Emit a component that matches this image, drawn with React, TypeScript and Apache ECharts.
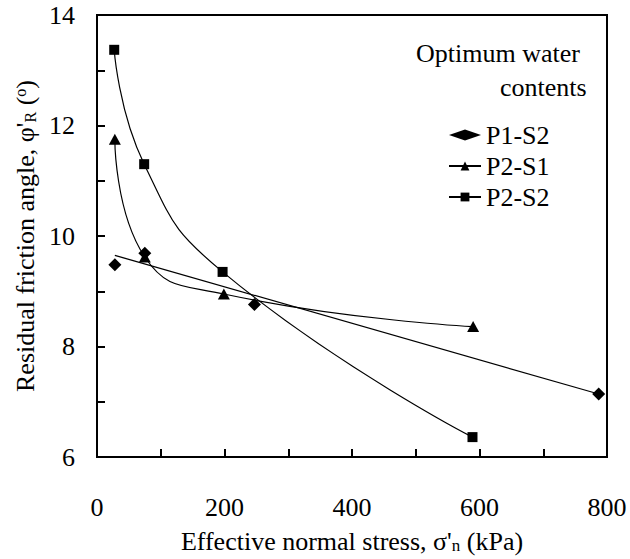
import React, { useEffect, useRef } from "react";
import * as echarts from "echarts";

// Measured data (effective normal stress kPa, residual friction angle deg)
const p1s2Stress = [28, 75, 247, 787];
const p1s2Angle = [9.48, 9.69, 8.76, 7.14];
const p1s2TrendStress = [28, 787];
const p1s2TrendAngle = [9.65, 7.14];

const p2s1Stress = [28, 75, 199, 590];
const p2s1Angle = [11.75, 9.62, 8.95, 8.36];

const p2s2Stress = [27, 74, 197, 589];
const p2s2Angle = [13.37, 11.3, 9.35, 6.36];

const seriesNames = ["P1-S2", "P2-S1", "P2-S2"];
const legendTitle = ["Optimum water", "contents"];

const FONT = "Liberation Serif";

const zip = (xs: number[], ys: number[]) => xs.map((x, i) => [x, ys[i]]);

export default function App() {
  const ref = useRef<HTMLDivElement>(null);
  useEffect(() => {
    if (!ref.current) return;
    const chart = echarts.init(ref.current, undefined, { renderer: "svg" });
    const axisText = { color: "#000", fontFamily: FONT, fontSize: 26 };
    chart.setOption({
      animation: false,
      backgroundColor: "#fff",
      textStyle: { fontFamily: FONT },
      grid: {
        left: 97,
        right: 23,
        top: 15,
        bottom: 95,
        show: true,
        borderColor: "#000",
        borderWidth: 2,
        backgroundColor: "transparent",
      },
      xAxis: {
        type: "value",
        min: 0,
        max: 800,
        interval: 200,
        axisLine: { onZero: false, lineStyle: { color: "#000", width: 2 } },
        axisTick: { inside: true, length: 8, lineStyle: { color: "#000", width: 2 } },
        minorTick: { show: true, splitNumber: 2, length: 8, lineStyle: { color: "#000", width: 2 } },
        splitLine: { show: false },
        axisLabel: { ...axisText, margin: 37 },
        name: "Effective normal stress, σ'{sub|n} (kPa)",
        nameLocation: "middle",
        nameGap: 71,
        nameTextStyle: {
          ...axisText,
          rich: {
            sub: { fontFamily: FONT, fontSize: 17, color: "#000", verticalAlign: "bottom", lineHeight: 14 },
          },
        },
      },
      yAxis: {
        type: "value",
        min: 6,
        max: 14,
        interval: 2,
        axisLine: { onZero: false, lineStyle: { color: "#000", width: 2 } },
        axisTick: { inside: true, length: 8, lineStyle: { color: "#000", width: 2 } },
        minorTick: { show: true, splitNumber: 2, length: 8, lineStyle: { color: "#000", width: 2 } },
        splitLine: { show: false },
        axisLabel: { ...axisText, margin: 22 },
        name: "Residual friction angle, φ'{sub|R} ({sup|o})",
        nameLocation: "middle",
        nameGap: 57,
        nameTextStyle: {
          ...axisText,
          rich: {
            sub: { fontFamily: FONT, fontSize: 16, color: "#000", verticalAlign: "bottom", lineHeight: 14 },
            sup: { fontFamily: FONT, fontSize: 16, color: "#000", verticalAlign: "top", lineHeight: 20 },
          },
        },
      },
      legend: {
        data: seriesNames,
        orient: "vertical",
        left: 443,
        top: 117,
        itemWidth: 32,
        itemHeight: 11,
        itemGap: 5,
        textStyle: { color: "#000", fontFamily: FONT, fontSize: 26 },
      },
      graphic: [
        {
          type: "text",
          left: 416,
          top: 40,
          style: { text: legendTitle[0], fill: "#000", font: `26px ${FONT}` },
        },
        {
          type: "text",
          left: 500,
          top: 74,
          style: { text: legendTitle[1], fill: "#000", font: `26px ${FONT}` },
        },
      ],
      series: [
        {
          name: seriesNames[0],
          type: "scatter",
          symbol: "diamond",
          symbolSize: 13,
          itemStyle: { color: "#000", opacity: 1 },
          data: zip(p1s2Stress, p1s2Angle),
          z: 3,
        },
        {
          name: "P1-S2 trend",
          type: "line",
          showSymbol: false,
          symbol: "none",
          lineStyle: { color: "#000", width: 1.2 },
          data: zip(p1s2TrendStress, p1s2TrendAngle),
          z: 2,
        },
        {
          name: seriesNames[1],
          type: "line",
          smooth: 0.5,
          symbol: "triangle",
          symbolSize: [12, 11],
          itemStyle: { color: "#000" },
          lineStyle: { color: "#000", width: 1.2 },
          data: zip(p2s1Stress, p2s1Angle),
          z: 3,
        },
        {
          name: seriesNames[2],
          type: "line",
          smooth: 0.5,
          symbol: "rect",
          symbolSize: 10,
          itemStyle: { color: "#000" },
          lineStyle: { color: "#000", width: 1.2 },
          data: zip(p2s2Stress, p2s2Angle),
          z: 3,
        },
      ],
    });
    return () => chart.dispose();
  }, []);
  return (
    <div
      ref={ref}
      style={{ width: 630, height: 559, position: "fixed", left: 0, top: 0 }}
    />
  );
}
